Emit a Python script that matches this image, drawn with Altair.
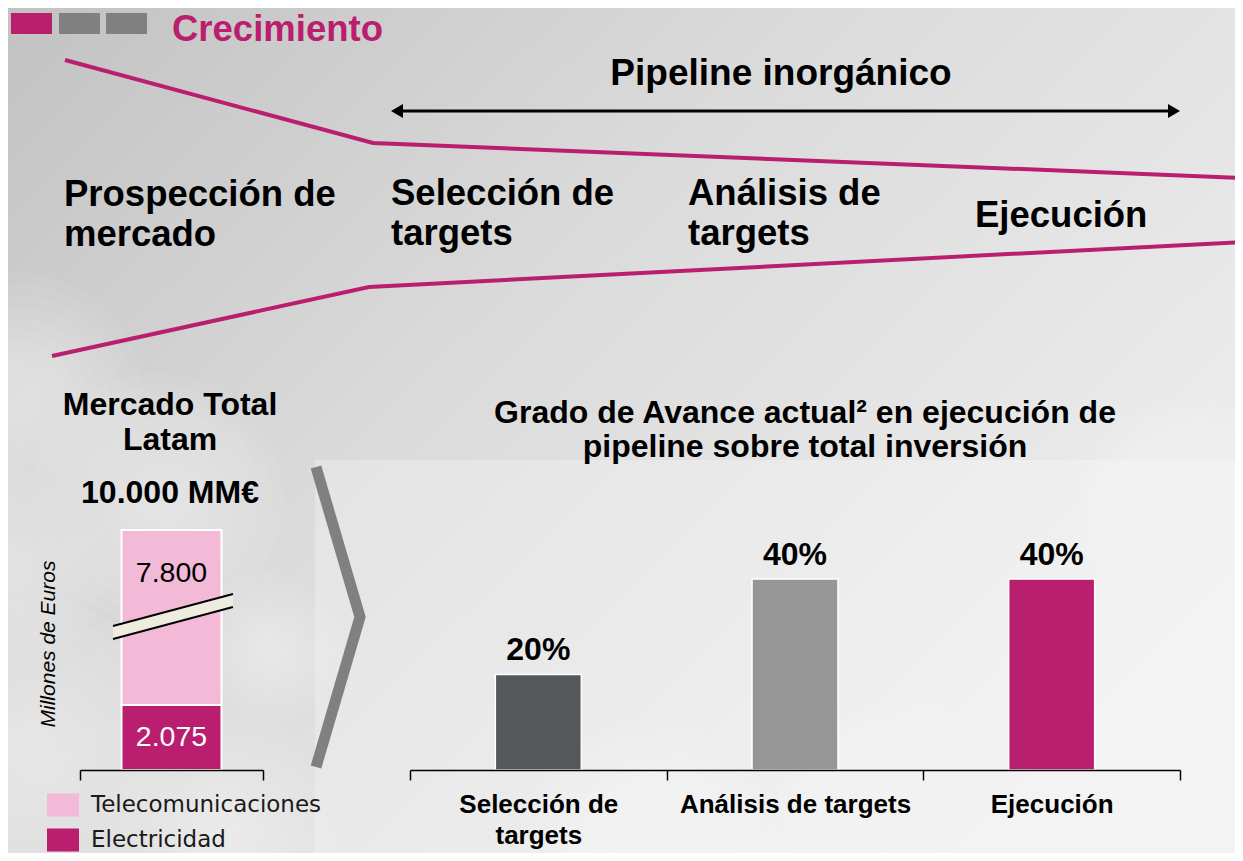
import altair as alt
import pandas as pd

# ---------------- data ----------------
header_title = "Crecimiento"
pipeline_title = "Pipeline inorgánico"
funnel_stages = ["Prospección de\nmercado", "Selección de\ntargets",
                 "Análisis de\ntargets", "Ejecución"]

market_title = "Mercado Total\nLatam"
market_total = "10.000 MM€"
market_unit = "Millones de Euros"
market_segments = ["Telecomunicaciones", "Electricidad"]
market_values = [7800, 2075]
market_labels = ["7.800", "2.075"]
market_hidden = [2215, 0]      # part of each segment cut out by the axis break
market_stack_order = [1, 0]    # Electricidad at the bottom

progress_title = "Grado de Avance actual² en ejecución de\npipeline sobre total inversión"
stages = ["Selección de targets", "Análisis de targets", "Ejecución"]
progress = [20, 40, 40]
progress_labels = ["20%", "40%", "40%"]

# ---------------- style / layout ----------------
MAGENTA = "#BA1E6E"
PINK = "#F3BAD8"
MID_GRAY = "#808080"
STAGE_COLORS = ["#54585A", "#969696", MAGENTA]
FONT = "Liberation Sans"
W, H, PAD_B = 1227, 762, 83


def PX(f):
    return alt.X(f, type="quantitative", axis=None,
                 scale=alt.Scale(domain=[0, W], nice=False, zero=False))


def PY(f):
    return alt.Y(f, type="quantitative", axis=None,
                 scale=alt.Scale(domain=[H, 0], nice=False, zero=False))


one = pd.DataFrame({"k": [0]})

# background
bg = alt.Chart(one).mark_rect(fill={
    "gradient": "linear", "x1": 0, "y1": 0, "x2": 1, "y2": 0.7,
    "stops": [{"offset": 0, "color": "#c2c2c2"},
              {"offset": 0.45, "color": "#dbdbdb"},
              {"offset": 1, "color": "#efefef"}]}).encode(
    x=alt.value(0), x2=alt.value(W), y=alt.value(0), y2=alt.value(H + PAD_B))

# soft cloud puffs (many concentric faint circles)
puffs = [(10, 390, 250), (150, 490, 250), (0, 560, 200), (20, 740, 300),
         (210, 820, 240), (260, 640, 150), (1130, 790, 340), (900, 835, 280),
         (640, 845, 260), (1180, 500, 220)]
puff_rows = []
for (cx, cy, d) in puffs:
    for i in range(10):
        k = 1.0 - i * 0.09
        puff_rows.append({"x": cx, "y": cy, "s": (d * k) ** 2, "a": 0.055})
puff_df = pd.DataFrame(puff_rows)
clouds = alt.Chart(puff_df).mark_circle(color="white").encode(
    x=PX("x"), y=PY("y"), size=alt.Size("s:Q", scale=None),
    opacity=alt.Opacity("a:Q", scale=None))

panel_df = pd.DataFrame({"x": [307], "x2": [W], "y": [452], "y2": [H + PAD_B]})
panel = alt.Chart(panel_df).mark_rect(fill="white", opacity=0.25).encode(
    x=PX("x"), x2="x2", y=PY("y"), y2="y2")

# header squares
sq_df = pd.DataFrame({"x": [3, 51, 98], "x2": [44, 92, 139],
                      "y": [5, 5, 5], "y2": [26, 26, 26],
                      "c": [MAGENTA, MID_GRAY, MID_GRAY]})
squares = alt.Chart(sq_df).mark_rect().encode(
    x=PX("x"), x2="x2", y=PY("y"), y2="y2", color=alt.Color("c:N", scale=None))


def polyline(pts, **kw):
    df = pd.DataFrame([{"o": i, "x": x, "y": y, "g": s}
                       for s, seg in enumerate(pts) for i, (x, y) in enumerate(seg)])
    return alt.Chart(df).mark_line(**kw).encode(
        x=PX("x"), y=PY("y"), detail="g:N", order="o:Q")


funnel = polyline([[(57, 52), (365, 135), (1235, 170)],
                   [(44, 348), (361, 279), (1235, 234)]],
                  color=MAGENTA, strokeWidth=4)
chevron = polyline([[(308, 459), (352, 609), (308, 759)]],
                   color=MID_GRAY, strokeWidth=11, strokeJoin="miter", strokeCap="butt")
arrow = polyline([[(389, 103), (1166, 103)]], color="black", strokeWidth=3)
head_df = pd.DataFrame({"x": [389, 1166], "y": [103, 103],
                        "s": ["triangle-left", "triangle-right"]})
heads = alt.Chart(head_df).mark_point(filled=True, color="black", size=190, opacity=1).encode(
    x=PX("x"), y=PY("y"), shape=alt.Shape("s:N", scale=None))


def text(texts, xs, ys, size, bold=True, align="left", lh=None, color="black",
         font=FONT, baseline="alphabetic", **kw):
    df = pd.DataFrame({"t": texts, "x": xs, "y": ys})
    props = dict(font=font, fontSize=size, fontWeight="bold" if bold else "normal",
                 align=align, baseline=baseline, color=color, lineBreak="\n", **kw)
    if lh:
        props["lineHeight"] = lh
    return alt.Chart(df).mark_text(**props).encode(x=PX("x"), y=PY("y"), text="t:N")


t_header = text([header_title], [164], [33], 36.5, color=MAGENTA)
t_pipe = text([pipeline_title], [773], [77], 37, align="center")
t_stages = text(funnel_stages, [56, 383, 680, 967], [198, 197, 197, 219], 36.5, lh=40)
t_market = text([market_title], [162], [407], 32, align="center", lh=35)
t_total = text([market_total], [162], [495], 32, align="center")
t_unit = text([market_unit], [41], [636], 21, bold=False, align="center",
              baseline="middle", angle=270, fontStyle="italic")
t_prog = text([progress_title], [797], [415], 32, align="center", lh=34)

# ---------------- left: market stacked bar ----------------
left_df = pd.DataFrame({"mercado": "Latam", "segmento": market_segments,
                        "valor": market_values, "oculto": market_hidden,
                        "etiqueta": market_labels, "orden": market_stack_order})
left_df["mostrado"] = left_df["valor"] - left_df["oculto"]
left_df = left_df.sort_values("orden")
left_df["top"] = left_df["mostrado"].cumsum()
left_df["base"] = left_df["top"] - left_df["mostrado"]
left_df["mid"] = (left_df["top"] + left_df["base"]) / 2

lx_scale = alt.Scale(domain=["Latam"], range=[72, 255], paddingInner=0, paddingOuter=0)
lx_axis = alt.Axis(title=None, labels=False, orient="bottom", tickBand="extent",
                   tickSize=10, tickWidth=1.5, tickColor="black", zindex=1,
                   domainColor="black", domainWidth=1.5, grid=False)
ly_scale = alt.Scale(domain=[0, 24325], nice=False, zero=True)

left_bars = alt.Chart(left_df).mark_bar(
    stroke="white", strokeWidth=2, width=alt.RelativeBandSize(0.5464)).encode(
    x=alt.X("mercado:N", scale=lx_scale, axis=lx_axis),
    y=alt.Y("top:Q", scale=ly_scale, axis=None),
    y2="base:Q",
    color=alt.Color("segmento:N",
                    scale=alt.Scale(domain=market_segments, range=[PINK, MAGENTA]),
                    legend=alt.Legend(title=None, orient="none", legendX=39, legendY=781,
                                      direction="vertical",
                                      symbolType="M-1,-0.72H1V0.72H-1Z", symbolSize=1024,
                                      symbolStrokeWidth=0, labelFont="DejaVu Sans",
                                      labelFontSize=23, labelColor="#1a1a1a", labelLimit=0,
                                      labelOffset=12, rowPadding=7, padding=0)))
left_lab_top = alt.Chart(left_df).transform_filter(
    alt.datum.segmento == "Telecomunicaciones").mark_text(
    font=FONT, fontSize=28.5, color="black", dy=52, baseline="alphabetic").encode(
    x=alt.X("mercado:N", scale=lx_scale, axis=lx_axis),
    y=alt.Y("top:Q", scale=ly_scale, axis=None), text="etiqueta:N")
left_lab_bot = alt.Chart(left_df).transform_filter(
    alt.datum.segmento == "Electricidad").mark_text(
    font=FONT, fontSize=28.5, color="white", baseline="middle").encode(
    x=alt.X("mercado:N", scale=lx_scale, axis=lx_axis),
    y=alt.Y("mid:Q", scale=ly_scale, axis=None), text="etiqueta:N")
left_chart = alt.layer(left_bars, left_lab_top, left_lab_bot)

# axis break across the bar
brk_df = pd.DataFrame({"x": [105, 225], "yt": [618, 586], "yb": [631, 599]})
brk_area = alt.Chart(brk_df).mark_area(color="#EEEBDF", opacity=1).encode(
    x=PX("x"), y=PY("yt"), y2="yb")
brk_lines = polyline([[(105, 618), (225, 586)], [(105, 631), (225, 599)]],
                     color="black", strokeWidth=2)

# ---------------- right: progress bars ----------------
right_df = pd.DataFrame({"etapa": stages, "avance": progress, "etiqueta": progress_labels})
rx_scale = alt.Scale(domain=stages, range=[402, 1172], paddingInner=0, paddingOuter=0)
rx_axis = alt.Axis(title=None, orient="bottom", tickBand="extent", tickSize=10,
                   tickWidth=1.5, tickColor="black", domainColor="black", domainWidth=1.5,
                   labelAngle=0, labelFont=FONT, labelFontWeight="bold", labelFontSize=26,
                   labelColor="black", labelLineHeight=31, labelPadding=11, zindex=1,
                   labelLimit=0, labelOverlap=False, grid=False,
                   labelExpr="datum.value == 'Selección de targets' ? ['Selección de', 'targets'] : datum.label")
ry_scale = alt.Scale(domain=[0, 159.58], nice=False, zero=True)
right_bars = alt.Chart(right_df).mark_bar(
    stroke="white", strokeWidth=1.5, width=alt.RelativeBandSize(0.335)).encode(
    x=alt.X("etapa:N", sort=stages, scale=rx_scale, axis=rx_axis),
    y=alt.Y("avance:Q", scale=ry_scale, axis=None),
    color=alt.Color("etapa:N", scale=alt.Scale(domain=stages, range=STAGE_COLORS), legend=None))
right_text = alt.Chart(right_df).mark_text(
    font=FONT, fontSize=32, fontWeight="bold", color="black", dy=-14,
    baseline="alphabetic").encode(
    x=alt.X("etapa:N", sort=stages, scale=rx_scale, axis=rx_axis),
    y=alt.Y("avance:Q", scale=ry_scale, axis=None),
    text="etiqueta:N")
right_chart = alt.layer(right_bars, right_text)

chart = alt.layer(
    bg, clouds, panel, squares, funnel, chevron, arrow, heads,
    t_header, t_pipe, t_stages, t_market, t_total, t_unit, t_prog,
    left_chart, brk_area, brk_lines, right_chart
).resolve_scale(
    x="independent", y="independent", color="independent",
    shape="independent", opacity="independent", size="independent"
).resolve_axis(x="independent", y="independent").resolve_legend(
    color="independent"
).properties(
    width=W, height=H,
    padding={"left": 0, "top": 0, "right": 0, "bottom": PAD_B},
    autosize=alt.AutoSizeParams(type="none"),
).configure_view(stroke=None)

chart.save("out.html", embed_options={"renderer": "svg", "actions": False})
